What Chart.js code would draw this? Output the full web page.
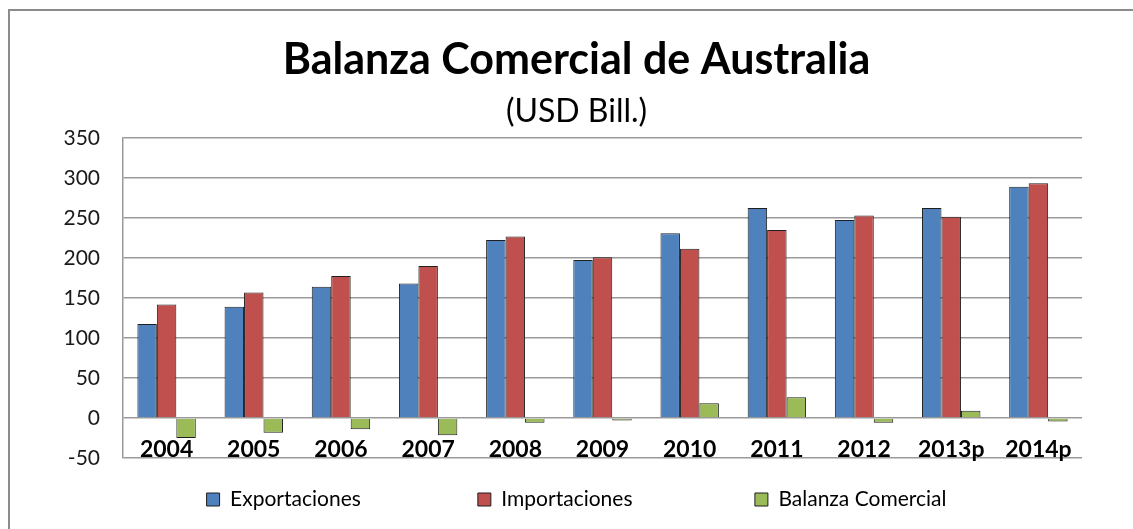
<!DOCTYPE html>
<html>
<head>
<meta charset="utf-8">
<script src="https://cdn.jsdelivr.net/npm/chart.js@4.4.1/dist/chart.umd.min.js"></script>
<style>
    html, body { margin: 0; padding: 0; background: #fff; overflow: hidden; }
    #frame {
        position: absolute; left: 8px; top: 9px; width: 1200px; height: 600px;
        border: 2px solid #8c8c8c; box-sizing: border-box;
    }
    #wrap { position: absolute; left: 0; top: 0; width: 1133px; height: 529px; }
</style>
</head>
<body>
<div id="frame"></div>
<div id="wrap"><canvas id="chart"></canvas></div>
<script>
const years = ['2004', '2005', '2006', '2007', '2008', '2009', '2010', '2011', '2012', '2013p', '2014p'];
const exportaciones = [117.5, 139, 164, 168, 222.5, 197.5, 231, 262.5, 247.5, 262.5, 289];
const importaciones = [142, 157, 177.5, 190, 227, 201, 211.5, 235, 253, 251.5, 293.5];
const balanza = [-25, -18.5, -14, -21.5, -6, -3, 18.5, 26, -6, 9, -4.5];
const yTicks = [-50, 0, 50, 100, 150, 200, 250, 300, 350];

const font = 'Lato';
const ctx = document.getElementById('chart').getContext('2d');

// excel style legend: wide gaps after each entry
const legendGap = [' '.repeat(16), ' '.repeat(17), ''];

new Chart(ctx, {
    type: 'bar',
    data: {
        labels: years,
        datasets: [
            {
                label: 'Exportaciones',
                data: exportaciones,
                backgroundColor: '#4F81BD',
                borderColor: '#1f1f1f',
                borderWidth: 1,
            },
            {
                label: 'Importaciones',
                data: importaciones,
                backgroundColor: '#C0504D',
                borderColor: '#1f1f1f',
                borderWidth: 1,
            },
            {
                label: 'Balanza Comercial',
                data: balanza,
                backgroundColor: '#9BBB59',
                borderColor: '#1f1f1f',
                borderWidth: 1,
            },
        ],
    },
    options: {
        responsive: true,
        maintainAspectRatio: false,
        animation: false,
        layout: {
            padding: { left: 59, right: 39, top: 0, bottom: 9 },
        },
        datasets: {
            bar: {
                categoryPercentage: 0.67,
                barPercentage: 1.0,
            },
        },
        plugins: {
            title: {
                display: true,
                text: 'Balanza Comercial de Australia',
                color: '#000',
                font: { family: font, size: 43, weight: 'bold' },
                padding: { top: 34, bottom: 0 },
            },
            subtitle: {
                display: true,
                text: '(USD Bill.)',
                color: '#000',
                font: { family: font, size: 32, weight: 'normal' },
                padding: { top: 7, bottom: 7 },
            },
            legend: {
                position: 'bottom',
                labels: {
                    color: '#000',
                    font: { family: font, size: 21 },
                    boxWidth: 13,
                    boxHeight: 13,
                    padding: 31,
                    generateLabels: (chart) => {
                        const items = Chart.defaults.plugins.legend.labels.generateLabels(chart);
                        items.forEach((it, i) => {
                            it.text = it.text + legendGap[i];
                            it.lineWidth = 1;
                            it.strokeStyle = '#1f1f1f';
                        });
                        return items;
                    },
                },
            },
            tooltip: { enabled: false },
        },
        scales: {
            x: {
                grid: { display: false, drawTicks: false },
                border: { display: false },
                afterFit: (scale) => { scale.height = 0; },
                ticks: {
                    color: '#000',
                    font: { family: font, size: 23, weight: 'bold' },
                    mirror: true,
                    padding: -5,
                    maxRotation: 0,
                },
            },
            y: {
                min: -50,
                max: 350,
                afterFit: (scale) => { scale.width = 64; },
                afterBuildTicks: (scale) => { scale.ticks = yTicks.map((v) => ({ value: v })); },
                grid: {
                    color: '#9a9a9a',
                    lineWidth: 1.5,
                    drawTicks: false,
                },
                border: { display: true, color: '#9a9a9a', width: 1.5 },
                ticks: {
                    color: '#1a1a1a',
                    font: { family: font, size: 21 },
                    padding: 23,
                },
            },
            // empty right margin so titles and legend sit where the original has them
            yRight: {
                position: 'right',
                afterFit: (scale) => { scale.width = 12; },
                grid: { drawOnChartArea: false, drawTicks: false },
                border: { display: false },
                ticks: { display: false },
            },
        },
    },
});
</script>
</body>
</html>
